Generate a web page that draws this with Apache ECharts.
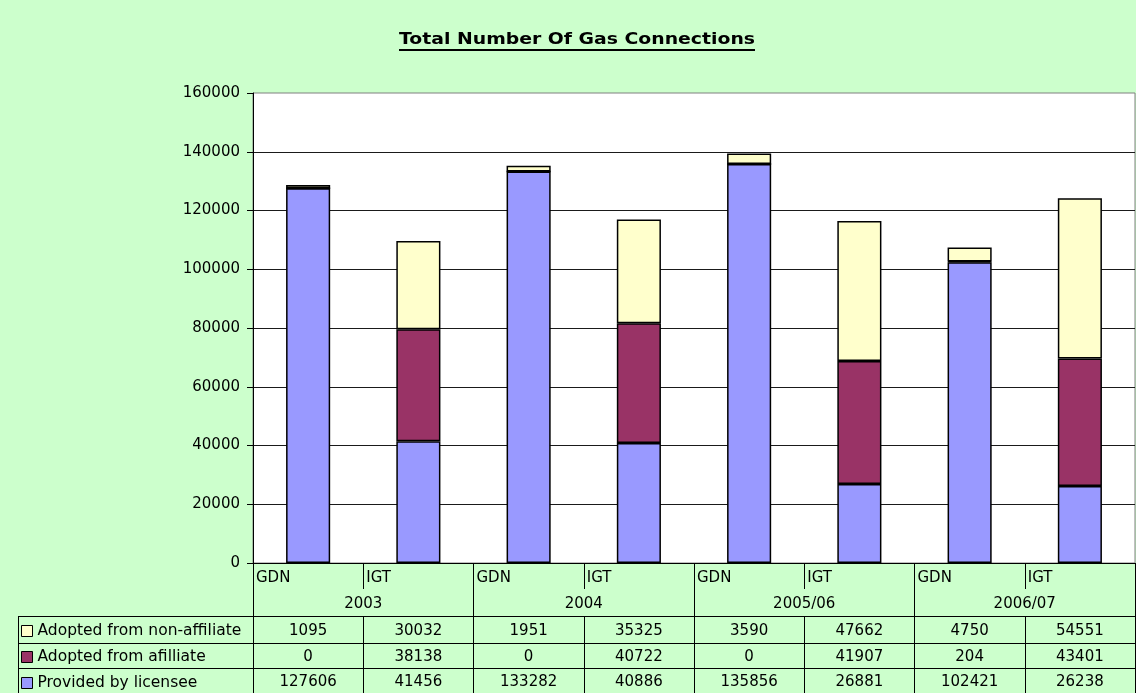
<!DOCTYPE html>
<html>
<head>
<meta charset="utf-8" />
<title>Total Number Of Gas Connections</title>
<script src="https://cdn.jsdelivr.net/npm/echarts@6/dist/echarts.min.js"></script>
<style>
  html, body { margin: 0; padding: 0; background: #CCFFCC; overflow: hidden; }
  #main { width: 1136px; height: 693px; }
</style>
</head>
<body>
<div id="main"></div>
<script type="text/javascript">
// data
var categories = ['GDN', 'IGT', 'GDN', 'IGT', 'GDN', 'IGT', 'GDN', 'IGT'];
var years = ['2003', '2004', '2005/06', '2006/07'];
var licensee = [127606, 41456, 133282, 40886, 135856, 26881, 102421, 26238];
var affiliate = [0, 38138, 0, 40722, 0, 41907, 204, 43401];
var nonAffiliate = [1095, 30032, 1951, 35325, 3590, 47662, 4750, 54551];
var names = ['Provided by licensee', 'Adopted from afilliate', 'Adopted from non-affiliate'];
var colors = ['#9999FF', '#993366', '#FFFFCC'];
var titleText = 'Total Number Of Gas Connections';

var FONT = 'DejaVu Sans, Verdana, sans-serif';
var gridLeft = 253, gridBottom = 130, gridTop = 93;

var chart = echarts.init(document.getElementById('main'), null, { width: 1136, height: 693 });

// measure title so it can be stretched to the reference width + underlined
var ctx = document.createElement('canvas').getContext('2d');
ctx.font = 'bold 16px ' + FONT;
var titleW = ctx.measureText(titleText).width;
var titleTarget = 356, titleX = 577 - titleTarget / 2;

function rowAxis(values, offset, tickLen, margin) {
    return {
        type: 'category',
        position: 'bottom',
        offset: offset,
        data: values.map(String),
        axisLine: { show: true, lineStyle: { color: '#000', width: 1 } },
        axisTick: { show: true, interval: 0, length: tickLen, lineStyle: { color: '#000' } },
        axisLabel: {
            interval: 0, margin: margin, color: '#000', fontFamily: FONT, fontSize: 15, lineHeight: 15,
            formatter: function (v, i) { return String(values[i]); }
        },
        splitLine: { show: false }
    };
}

var series = [licensee, affiliate, nonAffiliate].map(function (d, k) {
    return {
        name: names[k],
        type: 'bar',
        stack: 'total',
        barWidth: '40%',
        data: d,
        itemStyle: { color: colors[k], borderColor: '#000', borderWidth: 1.5 },
        emphasis: { disabled: true }
    };
});

var option = {
    backgroundColor: '#CCFFCC',
    animation: false,
    grid: {
        left: gridLeft, right: 1, top: gridTop, bottom: gridBottom,
        outerBoundsMode: 'none', containLabel: false,
        show: true, backgroundColor: '#fff', borderColor: '#808080', borderWidth: 1
    },
    legend: {
        orient: 'vertical', left: 21, top: 623, padding: 0,
        itemWidth: 11, itemHeight: 11, itemGap: 10,
        icon: 'rect',
        data: [names[2], names[1], names[0]],
        itemStyle: { borderWidth: 1 },
        textStyle: { fontFamily: FONT, fontSize: 15.5, lineHeight: 15, color: '#000' },
        selectedMode: false
    },
    xAxis: [
        {   // bars + GDN/IGT separators
            type: 'category', position: 'bottom', data: categories,
            axisLine: { lineStyle: { color: '#000' } },
            axisTick: { show: true, interval: 0, length: 26, lineStyle: { color: '#000' } },
            axisLabel: { show: false }
        },
        {   // GDN / IGT labels at the left of each cell
            type: 'category', position: 'bottom', boundaryGap: false,
            data: categories.concat(['']),
            axisLine: { show: false }, axisTick: { show: false },
            axisLabel: { interval: 0, align: 'left', margin: 8, padding: [0, 0, 0, 3],
                color: '#000', fontFamily: FONT, fontSize: 15, lineHeight: 15 }
        },
        {   // year groups
            type: 'category', position: 'bottom', data: years,
            axisLine: { show: false },
            axisTick: { show: true, interval: 0, length: 130, lineStyle: { color: '#000' } },
            axisLabel: { interval: 0, margin: 34, color: '#000', fontFamily: FONT, fontSize: 15, lineHeight: 15 }
        },
        rowAxis(nonAffiliate, 53, 27, 8),
        rowAxis(affiliate, 80, 25, 7),
        rowAxis(licensee, 105, 25, 7)
    ],
    yAxis: {
        type: 'value', min: 0, max: 160000, interval: 20000,
        axisLine: { show: true, lineStyle: { color: '#000' } },
        axisTick: { show: true, length: 6, lineStyle: { color: '#000' } },
        axisLabel: { margin: 13, color: '#000', fontFamily: FONT, fontSize: 15,
            formatter: function (v) { return String(v); } },
        splitLine: { show: true, showMaxLine: false, lineStyle: { color: '#1a1a1a', width: 1 } }
    },
    graphic: [
        { type: 'text', x: titleX, y: 32, scaleX: titleTarget / titleW,
          style: { text: titleText, font: 'bold 16px ' + FONT, fill: '#000' } },
        { type: 'line', shape: { x1: titleX, y1: 50, x2: titleX + titleTarget, y2: 50 },
          style: { stroke: '#000', lineWidth: 2 } },
        // left label column borders
        { type: 'line', shape: { x1: 18, y1: 616.5, x2: gridLeft, y2: 616.5 }, style: { stroke: '#000' } },
        { type: 'line', shape: { x1: 18, y1: 643.5, x2: gridLeft, y2: 643.5 }, style: { stroke: '#000' } },
        { type: 'line', shape: { x1: 18, y1: 668.5, x2: gridLeft, y2: 668.5 }, style: { stroke: '#000' } },
        { type: 'line', shape: { x1: 18.5, y1: 616, x2: 18.5, y2: 693 }, style: { stroke: '#000' } }
    ],
    series: series
};

chart.setOption(option);
</script>
</body>
</html>
